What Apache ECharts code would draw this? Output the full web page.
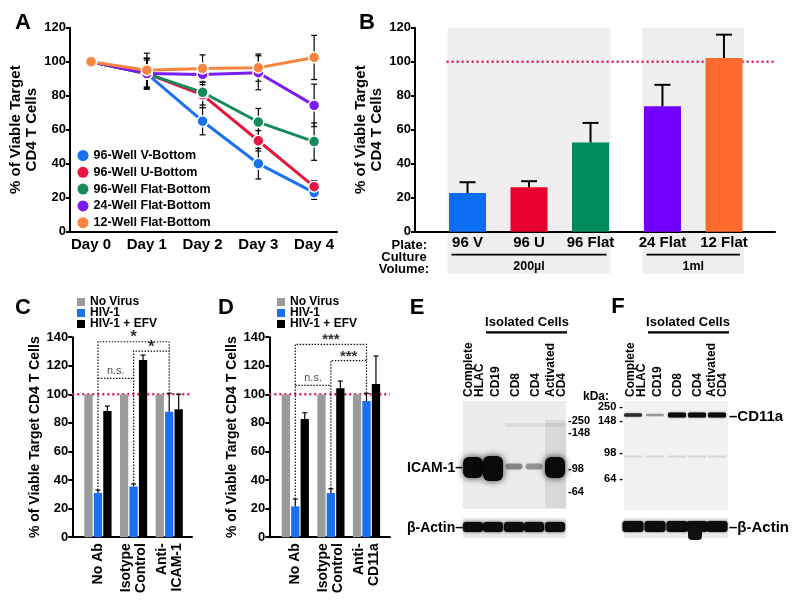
<!DOCTYPE html>
<html><head><meta charset="utf-8">
<script src="https://cdn.jsdelivr.net/npm/echarts@6/dist/echarts.min.js"></script>
<style>html,body{margin:0;padding:0;background:#fff}#c{width:800px;height:605px}</style>
</head><body><div id="c"></div>
<script>
const FONT = '"Liberation Sans", Arial, Helvetica, sans-serif';

// ---------- Panel A data ----------
const days = ['Day 0', 'Day 1', 'Day 2', 'Day 3', 'Day 4'];
const dayPos = [0, 1, 2, 3, 4];
const wellNames = ['96-Well V-Bottom', '96-Well U-Bottom', '96-Well Flat-Bottom', '24-Well Flat-Bottom', '12-Well Flat-Bottom'];
const wellColors = ['#1a72f0', '#e5163f', '#178a5c', '#7a1cf2', '#f7843f'];
const vBottom = [100, 93, 65, 40, 23];
const vBottomErr = [0, 9, 8, 9, 4];
const uBottom = [100, 93, 80.5, 53.5, 26.5];
const uBottomErr = [0, 9, 6, 6, 3.5];
const flat96 = [100, 93, 82, 64.5, 53];
const flat96Err = [0, 8, 9, 8, 11];
const flat24 = [100, 93, 92.5, 93.5, 74.3];
const flat24Err = [0, 9, 4.5, 10, 12.5];
const flat12 = [100, 95, 96, 96.5, 102.5];
const flat12Err = [0, 10, 8, 8, 13];
const wellValues = [vBottom, uBottom, flat96, flat24, flat12];
const wellErrs = [vBottomErr, uBottomErr, flat96Err, flat24Err, flat12Err];

// ---------- Panel B data ----------
const plateLabels = ['96 V', '96 U', '96 Flat', '24 Flat', '12 Flat'];
const platePos = [0, 1, 2, 3.17, 4.17];
const plateMeans = [22.8, 26.1, 52.5, 73.8, 102.2];
const plateErr = [6.3, 3.6, 11.5, 12.6, 13.7];
const plateColors = ['#0d6cf5', '#e8002f', '#008a5e', '#7300ff', '#ff6b2c'];
const volumeLabels = ['200µl', '1ml'];
const volumeGroups = [[0, 2], [3, 4]];
const refLevel = 100;

// ---------- Panels C / D data ----------
const treatNames = ['No Virus', 'HIV-1', 'HIV-1 + EFV'];
const treatColors = ['#9b9b9b', '#1a6ff2', '#000000'];
const groupPos = [0, 1, 2];
const abLabelsC = ['No Ab', 'Isotype\nControl', 'Anti-\nICAM-1'];
const noVirusC = [100, 100, 100];
const hivC = [31, 35.5, 87.8];
const hivErrC = [2, 1.7, 12.9];
const efvC = [88.3, 124, 89.5];
const efvErrC = [3.5, 3.5, 10.5];
const abLabelsD = ['No Ab', 'Isotype\nControl', 'Anti-\nCD11a'];
const noVirusD = [100, 100, 100];
const hivD = [21.6, 30.9, 95.3];
const hivErrD = [5.1, 3, 5.4];
const efvD = [82.7, 104.2, 107.2];
const efvErrD = [4.4, 5.1, 19.6];
const bracketsC = [[[0, 33], [0, 136.8], [2, 136.8], [2, 101]], [[1, 37.2], [1, 130.3], [2, 130.3]], [[0, 111.2], [1, 111.2]]];
const sigTextC = [['*', 1, 136.8], ['*', 1.5, 130.3], ['n.s.', 0.5, 111.2]];
const bracketsD = [[[0, 26.7], [0, 135], [2, 135], [2, 100.7]], [[1, 33.9], [1, 123.6], [2, 123.6]], [[0, 106.3], [1, 106.3]]];
const sigTextD = [['***', 1, 135], ['***', 1.5, 123.6], ['n.s.', 0.5, 106.3]];

// ---------- Blots (E/F) ----------
const laneNames = ['Complete\nHLAC', 'CD19', 'CD8', 'CD4', 'Activated\nCD4'];
const icamIntensity = [1, 1, 0.4, 0.35, 1];
const cd11aIntensity = [0.8, 0.35, 1, 1, 1];
const markersE = ['250', '148', '98', '64'];
const markersF = ['250', '148', '98', '64'];

const chart = echarts.init(document.getElementById('c'), null, {width: 800, height: 605});

function txt(o) { return Object.assign({fontFamily: FONT, fontWeight: 'bold', color: '#000'}, o); }

function yAx(grid, max, name, gap, fs, lh) {
  return {
    type: 'value', gridIndex: grid, min: 0, max: max, interval: 20,
    axisLine: {show: true, onZero: false, lineStyle: {color: '#000', width: 2}},
    axisTick: {show: true, length: 4, lineStyle: {color: '#000', width: 2}},
    splitLine: {show: false},
    axisLabel: txt({fontSize: 13, margin: 4}),
    name: name, nameLocation: 'middle', nameRotate: 90, nameGap: gap,
    nameTextStyle: txt({fontSize: fs, lineHeight: lh})
  };
}
function xAx(grid, min, max, custom, labels, lab) {
  return {
    type: 'value', gridIndex: grid, min: min, max: max,
    axisLine: {show: true, onZero: false, lineStyle: {color: '#000', width: 2}},
    axisTick: {show: false}, splitLine: {show: false},
    axisLabel: Object.assign(txt({customValues: custom, formatter: v => labels[custom.indexOf(v)]}), lab)
  };
}

function errSeries(xi, xs, ys, errs, o) {
  return {
    type: 'custom', xAxisIndex: xi, yAxisIndex: xi, z: o.z || 4, silent: true,
    data: xs.map((x, i) => [x, ys[i], errs[i]]),
    renderItem: function (params, api) {
      const x = api.value(0), y = api.value(1), e = api.value(2);
      if (!e) return null;
      const top = api.coord([x, y + e]);
      const bot = api.coord([x, o.upOnly ? y : y - e]);
      const cx = top[0] + (o.offset || 0);
      const st = {stroke: o.color || '#000', lineWidth: o.width || 1.2};
      const ch = [
        {type: 'line', shape: {x1: cx, y1: bot[1], x2: cx, y2: top[1]}, style: st},
        {type: 'line', shape: {x1: cx - o.cap, y1: top[1], x2: cx + o.cap, y2: top[1]}, style: st}
      ];
      if (!o.upOnly) ch.push({type: 'line', shape: {x1: cx - o.cap, y1: bot[1], x2: cx + o.cap, y2: bot[1]}, style: st});
      return {type: 'group', children: ch};
    }
  };
}

const series = [];
// Panel A
wellNames.forEach((n, k) => {
  series.push(errSeries(0, dayPos, wellValues[k], wellErrs[k], {cap: 3, z: 2}));
});
wellNames.forEach((n, k) => {
  series.push({
    type: 'line', name: n, xAxisIndex: 0, yAxisIndex: 0, z: 3,
    data: dayPos.map((d, i) => [d, wellValues[k][i]]),
    symbol: 'circle', symbolSize: 11, showAllSymbol: true,
    lineStyle: {width: 3, color: wellColors[k]},
    itemStyle: {color: wellColors[k], borderColor: '#fff', borderWidth: 1.5}
  });
});
// Panel B
series.push({type: 'line', xAxisIndex: 1, yAxisIndex: 1, z: 1, symbol: 'none', silent: true,
  data: [[-0.34, refLevel], [5, refLevel]], lineStyle: {color: '#e8174f', width: 2.5, type: [2, 3]}});
series.push({
  type: 'bar', xAxisIndex: 1, yAxisIndex: 1, barWidth: 37, z: 2,
  data: platePos.map((x, i) => ({value: [x, plateMeans[i]], itemStyle: {color: plateColors[i]}}))
});
series.push(errSeries(1, platePos, plateMeans, plateErr, {cap: 8, width: 2, upOnly: true}));

// Panels C and D
function barPanel(gi, nv, hiv, hivErr, efv, efvErr, brackets, sig, xmin, xmax) {
  series.push({type: 'line', xAxisIndex: gi, yAxisIndex: gi, z: 1, symbol: 'none', silent: true,
    data: [[xmin, refLevel], [xmax, refLevel]], lineStyle: {color: '#e8174f', width: 2.5, type: [2, 3]}});
  const vals = [nv, hiv, efv];
  vals.forEach((v, k) => series.push({
    type: 'bar', name: treatNames[k], xAxisIndex: gi, yAxisIndex: gi, barWidth: 8.3, barGap: '14%', z: 2,
    data: groupPos.map((x, i) => [x, v[i]]), itemStyle: {color: treatColors[k]}
  }));
  const step = 8.3 * 1.14;
  series.push(errSeries(gi, groupPos, hiv, hivErr, {cap: 2.5, upOnly: true, offset: 0}));
  series.push(errSeries(gi, groupPos, efv, efvErr, {cap: 2.5, upOnly: true, offset: step}));
  brackets.forEach(b => series.push({type: 'line', xAxisIndex: gi, yAxisIndex: gi, z: 5, symbol: 'none', silent: true,
    data: b, lineStyle: {color: '#111', width: 1.2, type: [1.5, 1.5]}}));
  series.push({type: 'scatter', xAxisIndex: gi, yAxisIndex: gi, z: 6, symbolSize: 0, silent: true,
    data: sig.map(s => ({value: [s[1], s[2]], label: s[0] === 'n.s.' ?
      txt({show: true, formatter: s[0], position: 'inside', offset: [0, -7], fontSize: 11, fontWeight: 'normal', color: '#222'}) :
      txt({show: true, formatter: s[0], position: 'inside', offset: [0, -4], fontSize: s[0].length > 1 ? 15 : 17})}))
  });
}
barPanel(2, noVirusC, hivC, hivErrC, efvC, efvErrC, bracketsC, sigTextC, -0.72, 2.64);
barPanel(3, noVirusD, hivD, hivErrD, efvD, efvErrD, bracketsD, sigTextD, -0.73, 2.66);

const rotLab = {rotate: 90, fontSize: 14, lineHeight: 15, margin: 6};
const option = {
  animation: false,
  backgroundColor: '#fff',
  grid: [
    {left: 70, top: 27.7, width: 267, height: 204},
    {left: 415, top: 27.7, width: 360, height: 204},
    {left: 72.3, top: 337.2, width: 119.7, height: 200},
    {left: 269.3, top: 337.2, width: 120.7, height: 200}
  ],
  xAxis: [
    xAx(0, -0.377, 4.41, dayPos, days, {fontSize: 15, margin: 6}),
    xAx(1, -0.854, 5.0, platePos, plateLabels, {fontSize: 15, margin: 4}),
    xAx(2, -0.72, 2.64, groupPos, abLabelsC, rotLab),
    xAx(3, -0.73, 2.66, groupPos, abLabelsD, rotLab)
  ],
  yAxis: [
    yAx(0, 120, '% of Viable Target\nCD4 T Cells', 23, 15, 16.5),
    yAx(1, 120, '% of Viable Target\nCD4 T Cells', 25, 15, 16.5),
    yAx(2, 140, '% of Viable Target CD4 T Cells', 28, 14, 16),
    yAx(3, 140, '% of Viable Target CD4 T Cells', 25, 14, 16)
  ],
  legend: [
    {orient: 'vertical', left: 77.5, top: 149, padding: 0, itemWidth: 11, itemHeight: 11, itemGap: 3.8, icon: 'circle',
     itemStyle: {borderWidth: 0}, textStyle: txt({fontSize: 12.5, lineHeight: 11}), data: wellNames, selectedMode: false},
    {orient: 'vertical', left: 77, top: 296, padding: 0, itemWidth: 8, itemHeight: 8, itemGap: -1, icon: 'rect',
     textStyle: txt({fontSize: 12, lineHeight: 8}), data: treatNames, selectedMode: false},
    {orient: 'vertical', left: 277, top: 296, padding: 0, itemWidth: 8, itemHeight: 8, itemGap: -1, icon: 'rect',
     textStyle: txt({fontSize: 12, lineHeight: 8}), data: treatNames, selectedMode: false}
  ],
  series: series
};
chart.setOption(option);

// ---------- graphics ----------
const G = [];
function T(text, x, y, o) {
  G.push({type: 'text', x: x, y: y, z: 20, rotation: (o && o.rot) || 0,
    style: Object.assign({text: text, fontFamily: FONT, fontWeight: 'bold', fontSize: 13, fill: '#000',
      align: 'center', verticalAlign: 'middle'}, o || {})});
}
function R(x, y, w, h, fill, o) {
  G.push(Object.assign({type: 'rect', z: 1, shape: {x: x, y: y, width: w, height: h, r: (o && o.r) || 0},
    style: Object.assign({fill: fill}, (o && o.style) || {})}, (o && o.extra) || {}));
}
function L(x1, y1, x2, y2, w) {
  G.push({type: 'line', z: 20, shape: {x1: x1, y1: y1, x2: x2, y2: y2}, style: {stroke: '#000', lineWidth: w || 2}});
}

// panel letters
[['A', 23, 23], ['B', 367, 23], ['C', 23, 308], ['D', 226, 308], ['E', 417, 308], ['F', 618, 307]]
  .forEach(p => T(p[0], p[1], p[2], {fontSize: 22}));

// Panel B decorations
const bw = 37;
const px = (x, y) => chart.convertToPixel({gridIndex: 1}, [x, y]);
const axisY = px(0, 0)[1];
const topY = px(0, 120)[1];
volumeGroups.forEach((g, k) => {
  const xa = px(platePos[g[0]], 0)[0], xb = px(platePos[g[1]], 0)[0];
  G.push({type: 'rect', z: -10, zlevel: 0, shape: {x: xa - bw / 2 - 1.5, y: topY, width: xb - xa + bw + 3, height: axisY + 42 - topY},
    style: {fill: '#efefef'}});
  L(xa - 16, axisY + 23, xb + 16, axisY + 23, 1.8);
  T(volumeLabels[k], (xa + xb) / 2, axisY + 35, {fontSize: 12.5});
});
const ax0 = px(-0.854, 0)[0];
T('Plate:', ax0 + 12, axisY + 14, {align: 'right', fontSize: 13});
T('Culture\nVolume:', ax0 - 11, axisY + 32, {fontSize: 13, lineHeight: 12});

// ---------- Blot E ----------
const eLanes = [473, 493, 514, 534, 555];
const eLabelX = [474, 496, 516, 536, 556];
const fLanes = [633, 655, 677, 697, 717];
const fLabelX = [636, 658, 678, 698, 717];
function laneLabels(xs) {
  laneNames.forEach((n, i) => T(n, xs[i], 397, {rot: Math.PI / 2, align: 'left', fontSize: 12, lineHeight: 10.5}));
}
laneLabels(eLabelX); laneLabels(fLabelX);
T('Isolated Cells', 527, 322.5, {fontSize: 13}); L(486, 332.3, 567, 332.3, 2.2);
T('Isolated Cells', 688, 322.5, {fontSize: 13}); L(648, 332.3, 729, 332.3, 2.2);

// E main blot
R(463, 401, 103, 108, '#ececec');
R(545, 420, 21, 88, 'rgba(0,0,0,0.08)', {extra: {z: 2}});
R(505, 423, 60, 4, 'rgba(0,0,0,0.06)', {extra: {z: 2}});
icamIntensity.forEach((a, i) => {
  const big = a > 0.9;
  const h = big ? (i === 1 ? 25 : 21) : 6;
  const w = big ? 20 : 17;
  const y0 = big ? (i === 1 ? 456 : 457) : 463.5;
  G.push({type: 'rect', z: 3, shape: {x: eLanes[i] - w / 2, y: y0, width: w, height: h, r: big ? 6 : 3},
    style: {fill: 'rgba(10,10,10,' + a + ')', shadowBlur: big ? 7 : 4, shadowColor: 'rgba(0,0,0,' + (a * 0.8) + ')'}});
});
// E actin
R(463, 518, 103, 20, '#e9e9e9');
eLanes.forEach((x, i) => G.push({type: 'rect', z: 3, shape: {x: x - 10, y: 522, width: 20, height: 10, r: 3},
  style: {fill: '#0d0d0d', shadowBlur: 3, shadowColor: 'rgba(0,0,0,0.8)'}}));
// E markers
[420.7, 432.7, 469.3, 491.7].forEach((y, i) => T('-' + markersE[i], 568, y, {align: 'left', fontSize: 11}));
T('ICAM-1–', 463, 468, {align: 'right', fontSize: 14});
T('β-Actin–', 463, 528, {align: 'right', fontSize: 14});

// ---------- Blot F ----------
R(624, 401, 104, 109, '#f1f1f1');
cd11aIntensity.forEach((a, i) => {
  const h = a > 0.9 ? 5 : (a > 0.5 ? 3.5 : 2.5);
  G.push({type: 'rect', z: 3, shape: {x: fLanes[i] - 9, y: 415 - h / 2, width: 18, height: h, r: 1.5},
    style: {fill: 'rgba(10,10,10,' + a + ')', shadowBlur: 2, shadowColor: 'rgba(0,0,0,' + (a * 0.6) + ')'}});
  G.push({type: 'rect', z: 3, shape: {x: fLanes[i] - 9, y: 455.5, width: 18, height: 2},
    style: {fill: 'rgba(0,0,0,0.1)'}});
});
R(624, 518, 104, 20, '#e9e9e9');
fLanes.forEach((x, i) => G.push({type: 'rect', z: 3, shape: {x: x - 10.5, y: 521, width: 21, height: 11, r: 3},
  style: {fill: '#0d0d0d', shadowBlur: 2, shadowColor: 'rgba(0,0,0,0.8)'}}));
G.push({type: 'rect', z: 3, shape: {x: 688, y: 528, width: 14, height: 12, r: 4}, style: {fill: '#111'}});
T('kDa:', 583, 396.7, {align: 'left', fontSize: 12});
[407.3, 420.7, 453.3, 479.3].forEach((y, i) => T(markersF[i] + ' -', 623, y, {align: 'right', fontSize: 11}));
T('–CD11a', 729, 416.7, {align: 'left', fontSize: 15});
T('–β-Actin', 729, 528, {align: 'left', fontSize: 15});

chart.setOption({graphic: G});
</script></body></html>
